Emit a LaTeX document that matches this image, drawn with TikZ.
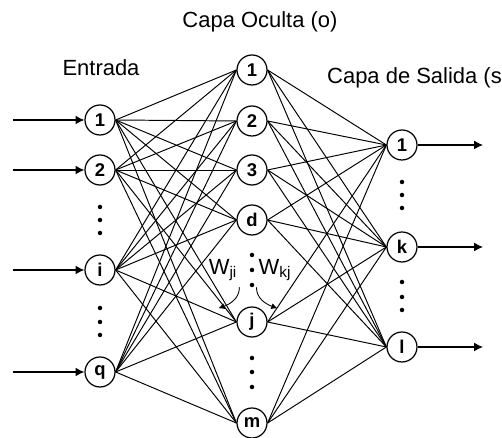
\documentclass[tikz,border=0pt]{standalone}
\usepackage{fontspec}
\setmainfont{Liberation Sans}
\usetikzlibrary{positioning, arrows.meta}

\begin{document}
\begin{tikzpicture}[font=\fontsize{12.5pt}{14pt}\selectfont,
		neurona/.style={circle, draw, line width=0.7pt, minimum size=0.6cm, inner sep=0pt,
		                font=\fontsize{10.5pt}{12pt}\selectfont\bfseries, fill=white},
		enlace/.style={line width=0.55pt},
		flecha/.style={line width=0.7pt, -{Latex[length=5pt, width=5pt]}}]
			\useasboundingbox (0,0) rectangle (10.04,-8.76);
			% capas
			\foreach \n/\y in {1/-2.4, 2/-3.4, i/-5.4, q/-7.44}
				\node[neurona] (e\n) at (2.0,\y) {\n};
			\foreach \n/\y in {1/-1.4, 2/-2.42, 3/-3.4, d/-4.4, j/-6.44, m/-8.46}
				\node[neurona] (o\n) at (5.04,\y) {\n};
			\foreach \n/\y in {1/-2.9, k/-4.94, l/-6.94}
				\node[neurona] (s\n) at (8.04,\y) {\n};
			% pesos
			\foreach \a in {1,2,i,q}
				\foreach \b in {1,2,3,d,j,m}
					\draw[enlace] (e\a.east) -- (o\b.west);
			\foreach \a in {1,2,3,d,j,m}
				\foreach \b in {1,k,l}
					\draw[enlace] (o\a.east) -- (s\b.west);
			% entradas y salidas
			\foreach \n in {1,2,i,q} {
				\coordinate (x\n) at (0.26,0 |- e\n);
				\draw[flecha] (x\n) -- (e\n.west);
			}
			\foreach \n in {1,k,l} {
				\coordinate (y\n) at (9.66,0 |- s\n);
				\draw[flecha] (s\n.east) -- (y\n);
			}
			% puntos suspensivos
			\foreach \x/\y in {2.0/-4.14, 2.0/-4.4, 2.0/-4.66, 2.0/-6.16, 2.0/-6.44, 2.0/-6.7,
			                   5.04/-5.1, 5.04/-5.4, 5.04/-5.7, 5.04/-7.16, 5.04/-7.44, 5.04/-7.74,
			                   8.04/-3.64, 8.04/-3.9, 8.04/-4.16, 8.04/-5.64, 8.04/-5.94, 8.04/-6.2}
				\fill (\x,\y) circle (0.045);
			% etiquetas
			\node (oculta) at (5.2,-0.44) {Capa Oculta (o)};
			\node (entrada) at (2.02,-1.36) {Entrada};
			\node[anchor=west] (salida) at (6.42,-1.56) {Capa de Salida (s)};
			\node (wji) at (4.46,-5.4) {W\textsubscript{ji}};
			\node (wkj) at (5.5,-5.4) {W\textsubscript{kj}};
			\draw[line width=0.5pt, -{Latex[length=3.5pt, width=3.5pt]}]
				(wji.south east) ++(-0.08,0) to[out=-90, in=20] ++(-0.42,-0.42);
			\draw[line width=0.5pt, -{Latex[length=3.5pt, width=3.5pt]}]
				(wkj.south west) ++(0.08,0) to[out=-90, in=160] ++(0.42,-0.42);
		\end{tikzpicture}
\end{document}
